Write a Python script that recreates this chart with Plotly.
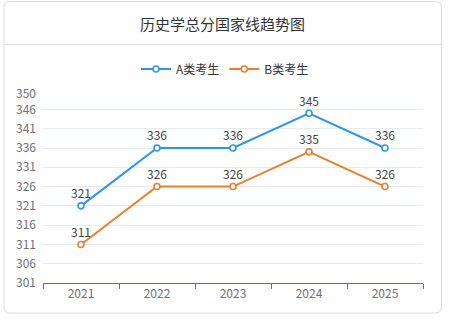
import plotly.graph_objects as go

years = ["2021", "2022", "2023", "2024", "2025"]
a_scores = [321, 336, 336, 345, 336]
b_scores = [311, 326, 326, 335, 326]
y_ticks = [301, 306, 311, 316, 321, 326, 331, 336, 341, 346, 350]

title_text = "历史学总分国家线趋势图"
series_names = ["A类考生", "B类考生"]
colors = ["#2d95f0", "#f07d2a"]

W, H = 449, 325
L, R, T, B = 43, 26, 94, 42
pw, ph = W - L - R, H - T - B

def px(x):
    return (x - L) / pw

def py(y):
    return (H - B - y) / ph

font = "Noto Sans CJK SC, Microsoft YaHei, sans-serif"

fig = go.Figure()
for name, vals, c in zip(series_names, [a_scores, b_scores], colors):
    fig.add_trace(go.Scatter(
        x=years, y=vals, name=name, mode="lines+markers+text",
        text=[str(v) for v in vals], textposition="top center",
        textfont=dict(size=12, color="#444", family=font),
        line=dict(color=c, width=2),
        marker=dict(symbol="circle", size=6, color="white", line=dict(color=c, width=1.6)),
        cliponaxis=False,
    ))

# card with rounded corners
x0, x1 = px(4), px(441.5)
y1, y0 = py(1.5), py(313)
rx, ry = 6 / pw, 6 / ph
path = (f"M {x0+rx},{y1} L {x1-rx},{y1} Q {x1},{y1} {x1},{y1-ry} "
        f"L {x1},{y0+ry} Q {x1},{y0} {x1-rx},{y0} "
        f"L {x0+rx},{y0} Q {x0},{y0} {x0},{y0+ry} "
        f"L {x0},{y1-ry} Q {x0},{y1} {x0+rx},{y1} Z")
shapes = [
    dict(type="path", xref="paper", yref="paper", path=path,
         line=dict(color="#dcdcdc", width=1), fillcolor="rgba(0,0,0,0)", layer="below"),
    dict(type="line", xref="paper", yref="paper", x0=x0, x1=x1, y0=py(44.5), y1=py(44.5),
         line=dict(color="#e2e2e2", width=1)),
]

fig.update_layout(
    width=W, height=H, margin=dict(l=L, r=R, t=T, b=B),
    paper_bgcolor="white", plot_bgcolor="white",
    shapes=shapes,
    annotations=[dict(text=title_text, xref="paper", yref="paper", x=px(222.5), y=py(24),
                      xanchor="center", yanchor="middle", showarrow=False,
                      font=dict(size=15, color="#333", family=font))],
    legend=dict(orientation="h", x=px(225), y=py(69), xanchor="center", yanchor="middle",
                font=dict(size=12, color="#333", family=font), itemwidth=30,
                bgcolor="rgba(0,0,0,0)"),
    xaxis=dict(type="category", range=[-0.5, 4.5], tickson="boundaries", ticks="outside",
               ticklen=5, tickcolor="#6e7079", showline=True, linecolor="#6e7079",
               linewidth=1, showgrid=False, tickfont=dict(size=12, color="#6e7079", family=font),
               fixedrange=True),
    yaxis=dict(range=[301, 350], tickvals=y_ticks, showgrid=True, gridcolor="#e6ebf3",
               zeroline=False, showline=False, ticks="", ticklabelstandoff=6,
               tickfont=dict(size=12, color="#6e7079", family=font), fixedrange=True),
    showlegend=True,
)

fig.write_html("out.html")
